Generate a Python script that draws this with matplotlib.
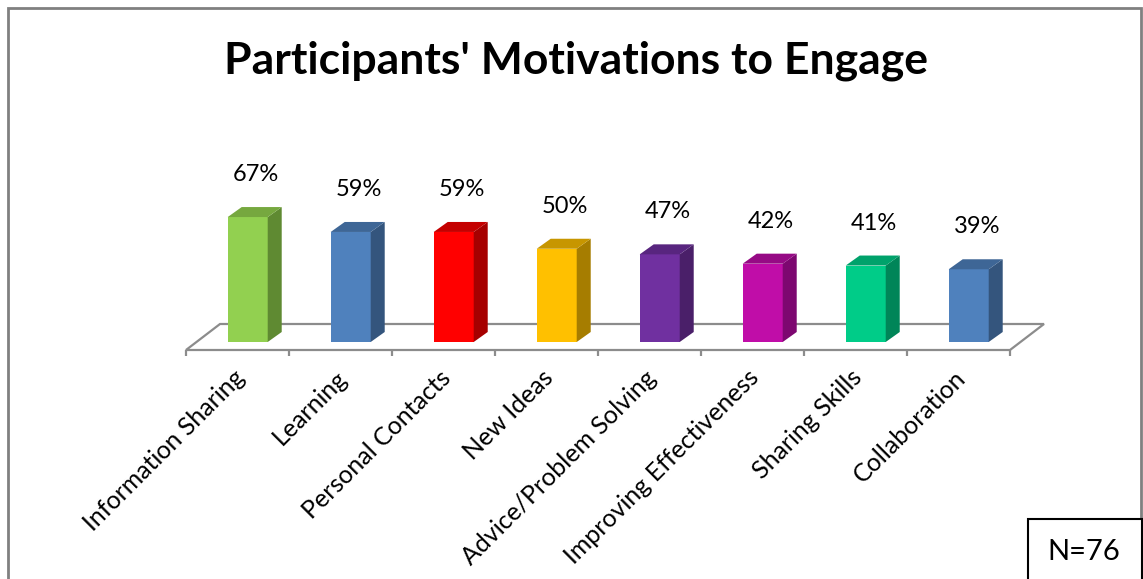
import matplotlib
matplotlib.use("Agg")
import matplotlib.pyplot as plt
from matplotlib.patches import Polygon, Rectangle

plt.rcParams['font.family'] = ['Lato', 'DejaVu Sans']

# Survey results
categories = ["Information Sharing", "Learning", "Personal Contacts", "New Ideas",
              "Advice/Problem Solving", "Improving Effectiveness", "Sharing Skills",
              "Collaboration"]
values = [67, 59, 59, 50, 47, 42, 41, 39]
value_labels = ["67%", "59%", "59%", "50%", "47%", "42%", "41%", "39%"]

# front / side / top face colours for each bar
front_colors = ["#92D050", "#4F81BD", "#FF0000", "#FFC000",
                "#7030A0", "#C00DA8", "#00CC88", "#4F81BD"]
side_colors = ["#5F8A32", "#34557D", "#A60000", "#A67D00",
               "#4A1F69", "#7D0770", "#008558", "#34557D"]
top_colors = ["#76A83F", "#3E6696", "#C40000", "#C79600",
              "#58257F", "#960A85", "#00A26B", "#3E6696"]

title = "Participants' Motivations to Engage"
note = "N=76"

W, H = 1143, 579
fig = plt.figure(figsize=(W / 100, H / 100), dpi=100)
ax = fig.add_axes([0, 0, 1, 1])
# one category = 103 px, one percent = 1.865 px, baseline 342 px from top
px_cat, px_pct, x0_px, y0_px = 103.0, 1.865, 237.5, 342.0
ax.set_xlim((0 - x0_px) / px_cat, (W - x0_px) / px_cat)
ax.set_ylim((y0_px - H) / px_pct, y0_px / px_pct)
ax.axis("off")

# oblique depth of the floor and of the bars
floor_dx, floor_dy = 34 / px_cat, 26 / px_pct
floor_front = -8 / px_pct
n = len(categories)
gray = "#8C8C8C"

# floor
fl = [(-0.5, floor_front), (n - 0.5, floor_front),
      (n - 0.5 + floor_dx, floor_front + floor_dy), (-0.5 + floor_dx, floor_front + floor_dy)]
ax.add_patch(Polygon(fl, closed=True, facecolor="white", edgecolor=gray, lw=1.6, zorder=1))
# tick marks on the front edge
tick_len = 6 / px_pct
for k in range(n + 1):
    ax.plot([k - 0.5, k - 0.5], [floor_front, floor_front - tick_len], color=gray, lw=1.6,
            zorder=1, solid_capstyle="butt")

# bars
bar_w = 40 / px_cat
bar_off = -0.095
bdx, bdy = 14 / px_cat, 10 / px_pct
for i, v in enumerate(values):
    xl = i + bar_off
    xr = xl + bar_w
    ax.add_patch(Polygon([(xl, 0), (xr, 0), (xr, v), (xl, v)], closed=True,
                         facecolor=front_colors[i], edgecolor="none", zorder=3))
    ax.add_patch(Polygon([(xr, 0), (xr + bdx, bdy), (xr + bdx, v + bdy), (xr, v)], closed=True,
                         facecolor=side_colors[i], edgecolor="none", zorder=3))
    ax.add_patch(Polygon([(xl, v), (xr, v), (xr + bdx, v + bdy), (xl + bdx, v + bdy)], closed=True,
                         facecolor=top_colors[i], edgecolor="none", zorder=3))
    ax.text(xl + bar_w / 2 + 0.08, v + 22.8, value_labels[i], ha="center", va="center",
            fontsize=17, color="black", zorder=4)

# category labels
for i, c in enumerate(categories):
    ax.text(i + 0.03, floor_front - 24 / px_pct, c, rotation=45, rotation_mode="anchor",
            ha="right", va="center", fontsize=18, color="black")

# title
fig.text(576 / W, 1 - 74 / H, title, ha="center", va="baseline", fontsize=32,
         fontweight="bold", color="black")

# outer chart border
fig.patches.append(Rectangle((8 / W, -0.05), (1141 - 8) / W, 1.05 - 8 / H,
                             transform=fig.transFigure, fill=False, edgecolor="#808080",
                             lw=2, zorder=10))

# sample size box
fig.patches.append(Rectangle((1028 / W, -0.05), (1142 - 1028) / W, 0.05 + 1 - 519 / H,
                             transform=fig.transFigure, facecolor="white", edgecolor="black",
                             lw=1.5, zorder=11))
fig.text(1084 / W, 1 - 552 / H, note, ha="center", va="center", fontsize=21, color="black",
         zorder=12)

fig.savefig("out.png", dpi=100, facecolor="white")
